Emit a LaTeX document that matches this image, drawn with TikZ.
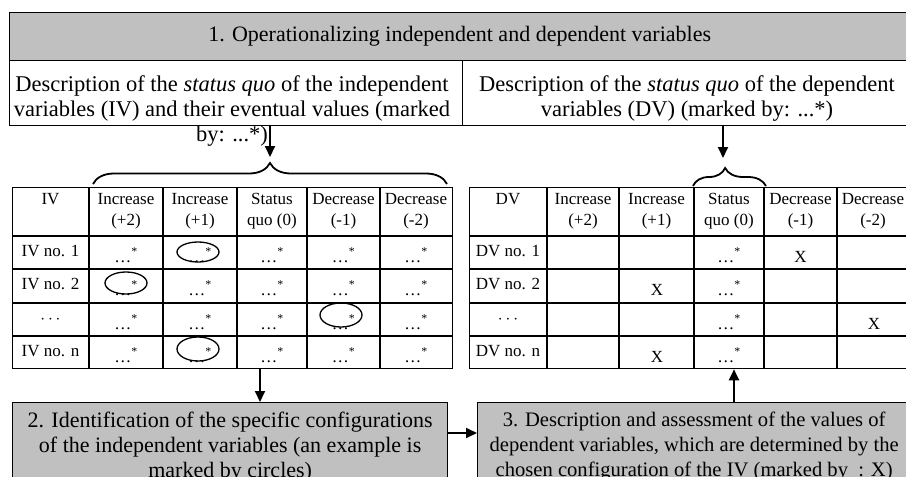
\documentclass[tikz,border=0pt]{standalone}
\usepackage{fontspec}
\setmainfont{Liberation Serif}
\usetikzlibrary{decorations.pathreplacing,arrows.meta,calc}
\definecolor{boxgray}{RGB}{192,192,192}
\newcommand{\es}{\ldots\textsuperscript{*}}
\begin{document}
\begin{tikzpicture}[x=1pt,y=-1pt,
  bx/.style={draw=black, line width=1.3pt, inner sep=0pt, anchor=north west},
  arr/.style={line width=2pt, -{Triangle[length=11pt,width=10pt]}},
  gridl/.style={line width=1.3pt},
  big/.style={font=\fontsize{22}{25}\selectfont, inner sep=0pt},
  mid/.style={font=\fontsize{20.6}{25}\selectfont, inner sep=0pt},
  desc/.style={font=\fontsize{22.5}{25}\selectfont, inner sep=0pt},
  sm/.style={font=\fontsize{17}{21}\selectfont, inner sep=0pt, anchor=base},
  brc/.style={decorate, decoration={brace, amplitude=#1}, line width=1.8pt},
  ring/.style={line width=1.3pt}
]
\useasboundingbox (0,0) rectangle (906,477);
\begin{scope}
\clip (0,0) rectangle (906,477);
% top bar
\node[bx, fill=boxgray, minimum width=900pt, minimum height=48pt, big] (title) at (9,12) {1. Operationalizing independent and dependent variables};
% description boxes
\node[bx, minimum width=453pt, minimum height=65pt] (descL) at (9,60) {};
\node[bx, minimum width=450pt, minimum height=65pt] (descR) at (462,60) {};
\node[desc, align=center] (descLtext) at (232,111) {Description of the \textit{status quo} of the independent\\variables (IV) and their eventual values (marked\\by: ...*)};
\node[desc, align=center] (descRtext) at (687,98.5) {Description of the \textit{status quo} of the dependent\\variables (DV) (marked by: ...*)};
% tables
\node[bx, minimum width=440pt, minimum height=181pt] (ivtab) at (12,187) {};
\node[bx, minimum width=441pt, minimum height=181pt] (dvtab) at (469,187) {};
\foreach \x in {89,163,237,307,380} \draw[gridl] (\x,187) -- (\x,368);
\foreach \x in {547,619,694,764,837} \draw[gridl] (\x,187) -- (\x,368);
\foreach \y in {236,269,303,336} {\draw[gridl] (12,\y) -- (452,\y); \draw[gridl] (469,\y) -- (910,\y);}
% IV headers
\foreach \x/\a/\b [count=\i] in {50.5/IV/{},126/Increase/(+2),200/Increase/(+1),272/Status/quo (0),343.5/Decrease/(-1),416/Decrease/(-2)} {
  \node[sm] (ivh\i a) at (\x,204) {\a};
  \node[sm] (ivh\i b) at (\x,225) {\b};
}
\foreach \x/\a/\b [count=\i] in {508/DV/{},583/Increase/(+2),656.5/Increase/(+1),729/Status/quo (0),800.5/Decrease/(-1),873/Decrease/(-2)} {
  \node[sm] (dvh\i a) at (\x,204) {\a};
  \node[sm] (dvh\i b) at (\x,225) {\b};
}
% IV rows
\foreach \y/\t [count=\r] in {256/IV no. 1,289/IV no. 2,323/$\cdots$,356/IV no. n} {
  \node[sm] (ivl\r) at (50.5,\y) {\t};
}
\foreach \y [count=\r] in {262,295,329,362} {
  \foreach \x [count=\c] in {126,200,272,343.5,416} {
    \node[sm] (iv\r c\c) at (\x,\y) {\es};
  }
}
% DV rows
\foreach \y/\t [count=\r] in {256/DV no. 1,289/DV no. 2,323/$\cdots$,356/DV no. n} {
  \node[sm] (dvl\r) at (508,\y) {\t};
}
\foreach \y [count=\r] in {262,295,329,362} {
  \node[sm] (dv\r s) at (729,\y) {\es};
}
\node[sm] (x1) at (800.5,262) {X};
\node[sm] (x2) at (657,295) {X};
\node[sm] (x3) at (874,329) {X};
\node[sm] (x4) at (657,362) {X};
% circles
\draw[ring] (198,252) ellipse [x radius=21pt, y radius=10pt];
\draw[ring] (126,283) ellipse [x radius=21pt, y radius=11pt];
\draw[ring] (341,315) ellipse [x radius=21pt, y radius=12pt];
\draw[ring] (198,349) ellipse [x radius=21pt, y radius=12pt];
% braces
\draw[brc=21pt] (93,184) -- (447,184);
\draw[brc=18pt, decoration={aspect=0.44}] (693,186) -- (766,186);
% top arrows
\coordinate (ivb) at (270,157);
\coordinate (dvb) at (723,158);
\draw[arr] (descL.south -| ivb) -- (ivb);
\draw[arr] (descR.south -| dvb) -- (dvb);
% bottom boxes
\node[bx, fill=boxgray, minimum width=435pt, minimum height=88pt, big, align=center] (box2) at (12,402) {2. Identification of the specific configurations\\of the independent variables (an example is\\marked by circles)};
\node[bx, fill=boxgray, minimum width=433pt, minimum height=88pt, mid, align=center] (box3) at (477,402) {3. Description and assessment of the values of\\dependent variables, which are determined by the\\chosen configuration of the IV (marked by\ \ : X)};
\coordinate (c2) at (260,0);
\coordinate (c3) at (734,0);
\coordinate (c4) at (0,433);
\draw[arr] (ivtab.south -| c2) -- (box2.north -| c2);
\draw[arr] (box3.north -| c3) -- (dvtab.south -| c3);
\draw[arr] (box2.east |- c4) -- (box3.west |- c4);
\end{scope}
\end{tikzpicture}
\end{document}
